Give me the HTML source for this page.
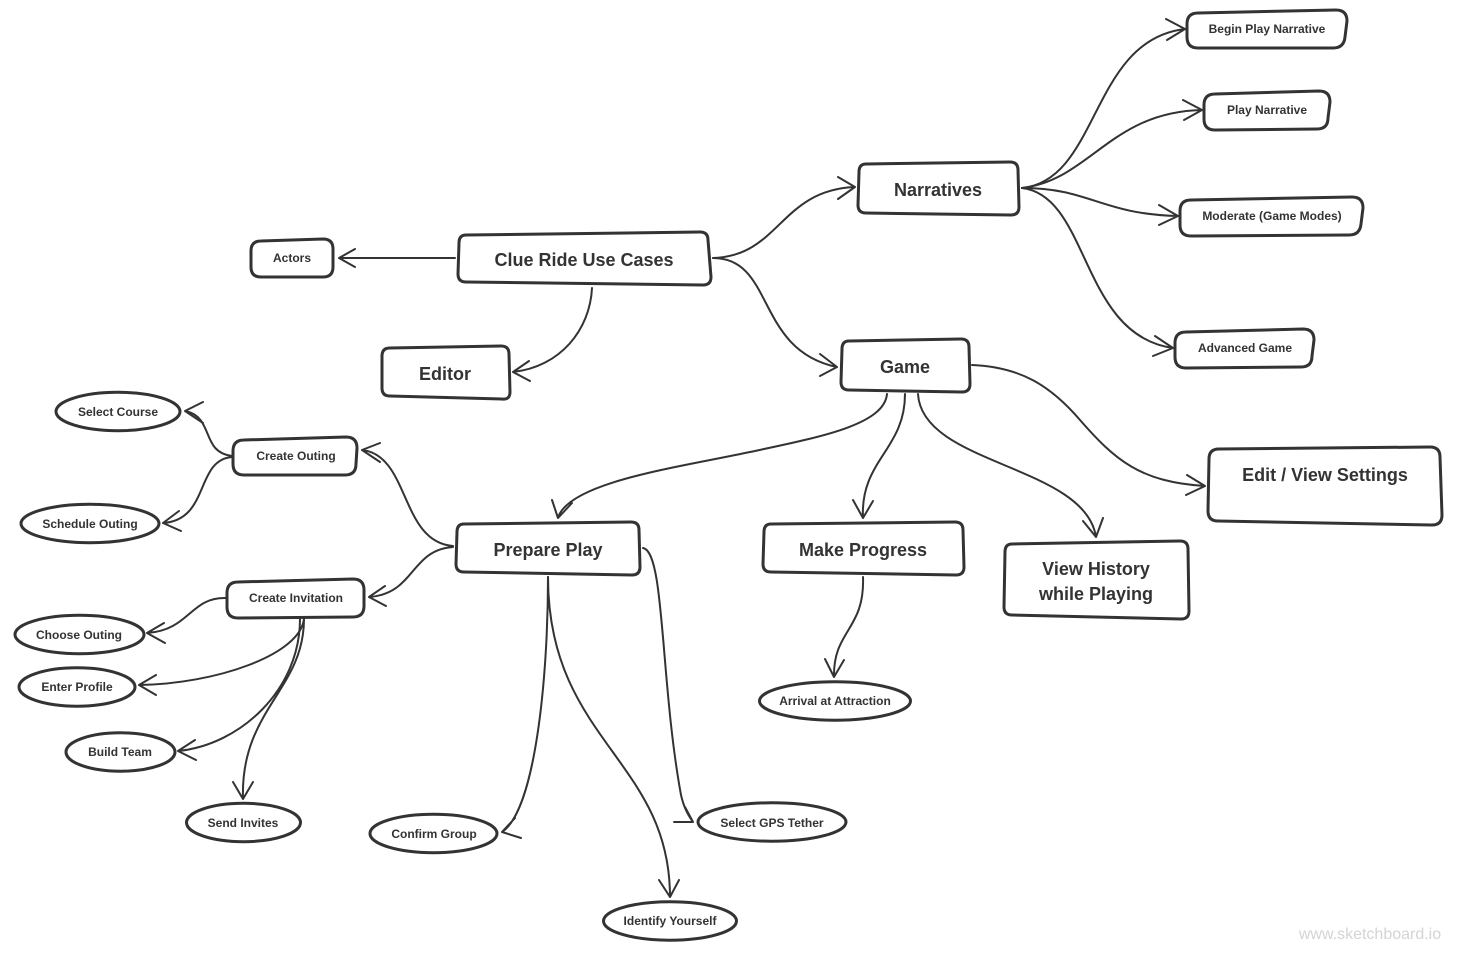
<!DOCTYPE html>
<html>
<head>
<meta charset="utf-8">
<style>
html,body{margin:0;padding:0;background:#fff;}
svg{display:block;}
text{font-family:"Liberation Sans",sans-serif;font-weight:bold;fill:#333;text-anchor:middle;}
.s{font-size:12px;}
.l{font-size:18px;}
path,ellipse{fill:none;stroke:#333;stroke-linecap:round;stroke-linejoin:round;}
.b{stroke-width:3;fill:#fff;}
.c{stroke-width:2;}
</style>
</head>
<body>
<svg width="1464" height="954" viewBox="0 0 1464 954" xmlns="http://www.w3.org/2000/svg">
<!-- connectors -->
<path class="c" d="M455 258H339M355 249L339 258L355 267"/>
<path class="c" d="M592 288C590 330 560 367 513 372M529 361L513 372L530 381"/>
<path class="c" d="M713 258C780 256 780 190 855 187M838 177L855 187L838 199"/>
<path class="c" d="M713 258C775 258 755 350 837 367M820 354L837 367L820 376"/>
<path class="c" d="M1022 188C1100 180 1090 40 1185 29M1166 19L1185 29L1167 40"/>
<path class="c" d="M1022 188C1090 180 1110 112 1202 110M1183 100L1202 110L1184 120"/>
<path class="c" d="M1022 188C1090 188 1100 214 1178 216M1159 205L1178 216L1159 225"/>
<path class="c" d="M1022 188C1090 196 1080 335 1173 348M1155 336L1173 348L1153 356"/>
<path class="c" d="M972 365C1020 367 1050 385 1080 420C1115 460 1140 482 1205 486M1187 475L1205 486L1186 495"/>
<path class="c" d="M887 394C884 425 820 437 750 452C680 467 568 482 558 518M552 500L558 518L572 503"/>
<path class="c" d="M905 394C905 450 860 460 863 518M853 500L863 518L873 501"/>
<path class="c" d="M918 394C922 465 1085 465 1096 537M1083 521L1096 537L1103 518"/>
<path class="c" d="M863 577C865 630 833 630 834 677M825 659L834 677L844 660"/>
<path class="c" d="M453 546C400 542 410 455 362 450M380 443L362 450L380 462"/>
<path class="c" d="M453 547C410 550 415 594 369 597M385 586L369 597L386 606"/>
<path class="c" d="M232 456C200 452 215 417 185 411M203 402L185 411L203 423"/>
<path class="c" d="M232 457C195 460 210 520 163 523M179 511L163 523L181 531"/>
<path class="c" d="M226 598C190 597 190 630 147 633M164 623L147 633L165 643"/>
<path class="c" d="M304 619C300 655 215 684 139 685M156 675L139 685L156 695"/>
<path class="c" d="M300 619C300 690 240 745 178 751M195 740L178 751L196 760"/>
<path class="c" d="M304 619C304 690 240 710 243 799M233 782L243 799L253 782"/>
<path class="c" d="M548 577C548 680 535 810 502 832M515 818L502 832L521 838"/>
<path class="c" d="M548 577C548 740 670 760 670 897M659 880L670 897L679 880"/>
<path class="c" d="M643 548C665 552 660 680 681 795C684 808 688 815 693 822M674 822H693M685 807L693 822"/>
<!-- rounded boxes -->
<path class="b" d="M466 235L700 232Q708 232 708 240L711 277Q711 285 703 285L466 282Q458 282 458 274L459 243Q459 235 466 235Z"/>
<path class="b" d="M866 164L1010 162Q1018 162 1018 170L1019 207Q1019 215 1011 215L866 213Q858 213 858 205L859 172Q859 164 866 164Z"/>
<path class="b" d="M849 341L961 339Q969 339 969 347L970 384Q970 392 962 392L849 390Q841 390 841 382L842 349Q842 341 849 341Z"/>
<path class="b" d="M390 348L501 346Q509 346 509 354L510 392Q510 400 502 399L390 396Q382 396 382 388L382 356Q382 348 390 348Z"/>
<path class="b" d="M261 241L323 239Q333 239 333 249L333 267Q333 277 323 277L261 277Q251 277 251 267L251 251Q251 241 261 241Z"/>
<path class="b" d="M464 524L631 522Q639 522 639 530L640 567Q640 575 632 575L464 572Q456 572 456 564L457 532Q457 524 464 524Z"/>
<path class="b" d="M771 524L955 522Q963 522 963 530L964 567Q964 575 956 575L771 572Q763 572 763 564L764 532Q764 524 771 524Z"/>
<path class="b" d="M1012 544L1180 541Q1188 541 1188 549L1189 611Q1189 619 1181 619L1012 615Q1004 615 1004 607L1005 552Q1005 544 1012 544Z"/>
<path class="b" d="M1219 449L1430 447Q1440 447 1440 457L1442 515Q1442 525 1432 525L1218 521Q1208 521 1208 511L1209 459Q1209 449 1219 449Z"/>
<path class="b" d="M1198 13L1336 10Q1347 10 1347 21L1345 37Q1344 48 1333 48L1198 48Q1187 48 1187 37L1187 24Q1187 13 1198 13Z"/>
<path class="b" d="M1215 94L1319 91Q1330 91 1330 102L1328 118Q1328 129 1317 129L1215 130Q1204 130 1204 119L1204 105Q1204 94 1215 94Z"/>
<path class="b" d="M1191 200L1352 197Q1363 197 1363 208L1361 224Q1360 235 1349 235L1191 236Q1180 236 1180 225L1180 211Q1180 200 1191 200Z"/>
<path class="b" d="M1186 332L1303 329Q1314 329 1314 340L1312 356Q1312 367 1301 367L1186 368Q1175 368 1175 357L1175 343Q1175 332 1186 332Z"/>
<path class="b" d="M244 440L346 437Q357 437 357 448L356 464Q356 475 345 475L244 475Q233 475 233 464L233 451Q233 440 244 440Z"/>
<path class="b" d="M238 582L353 579Q364 579 364 590L364 606Q364 617 353 617L238 618Q227 618 227 607L227 593Q227 582 238 582Z"/>
<!-- ellipses -->
<ellipse class="b" cx="118" cy="411.5" rx="62" ry="19.2"/>
<ellipse class="b" cx="90" cy="523.5" rx="69" ry="19.2"/>
<ellipse class="b" cx="79.5" cy="634.5" rx="64.5" ry="19.2"/>
<ellipse class="b" cx="77" cy="687" rx="58" ry="19.2"/>
<ellipse class="b" cx="120.5" cy="752" rx="54.5" ry="19.2"/>
<ellipse class="b" cx="243.5" cy="822.5" rx="57" ry="19.2"/>
<ellipse class="b" cx="433.5" cy="833.5" rx="63.5" ry="19.2"/>
<ellipse class="b" cx="670" cy="921" rx="66.5" ry="19.2"/>
<ellipse class="b" cx="772" cy="822" rx="74" ry="19.2"/>
<ellipse class="b" cx="835" cy="701" rx="75.5" ry="19.2"/>
<!-- labels -->
<text class="l" x="584" y="266">Clue Ride Use Cases</text>
<text class="l" x="938" y="196">Narratives</text>
<text class="l" x="905" y="373">Game</text>
<text class="l" x="445" y="380">Editor</text>
<text class="l" x="548" y="556">Prepare Play</text>
<text class="l" x="863" y="556">Make Progress</text>
<text class="l" x="1096" y="575">View History</text>
<text class="l" x="1096" y="600">while Playing</text>
<text class="l" x="1325" y="481">Edit / View Settings</text>
<text class="s" x="292" y="262">Actors</text>
<text class="s" x="1267" y="33">Begin Play Narrative</text>
<text class="s" x="1267" y="114">Play Narrative</text>
<text class="s" x="1272" y="220">Moderate (Game Modes)</text>
<text class="s" x="1245" y="352">Advanced Game</text>
<text class="s" x="296" y="460">Create Outing</text>
<text class="s" x="296" y="602">Create Invitation</text>
<text class="s" x="118" y="416">Select Course</text>
<text class="s" x="90" y="528">Schedule Outing</text>
<text class="s" x="79" y="639">Choose Outing</text>
<text class="s" x="77" y="691">Enter Profile</text>
<text class="s" x="120" y="756">Build Team</text>
<text class="s" x="243" y="827">Send Invites</text>
<text class="s" x="434" y="838">Confirm Group</text>
<text class="s" x="670" y="925">Identify Yourself</text>
<text class="s" x="772" y="827">Select GPS Tether</text>
<text class="s" x="835" y="705">Arrival at Attraction</text>
<text x="1370" y="939" style="font-size:16px;font-weight:normal;fill:#d4d4d4">www.sketchboard.io</text>
</svg>
</body>
</html>
